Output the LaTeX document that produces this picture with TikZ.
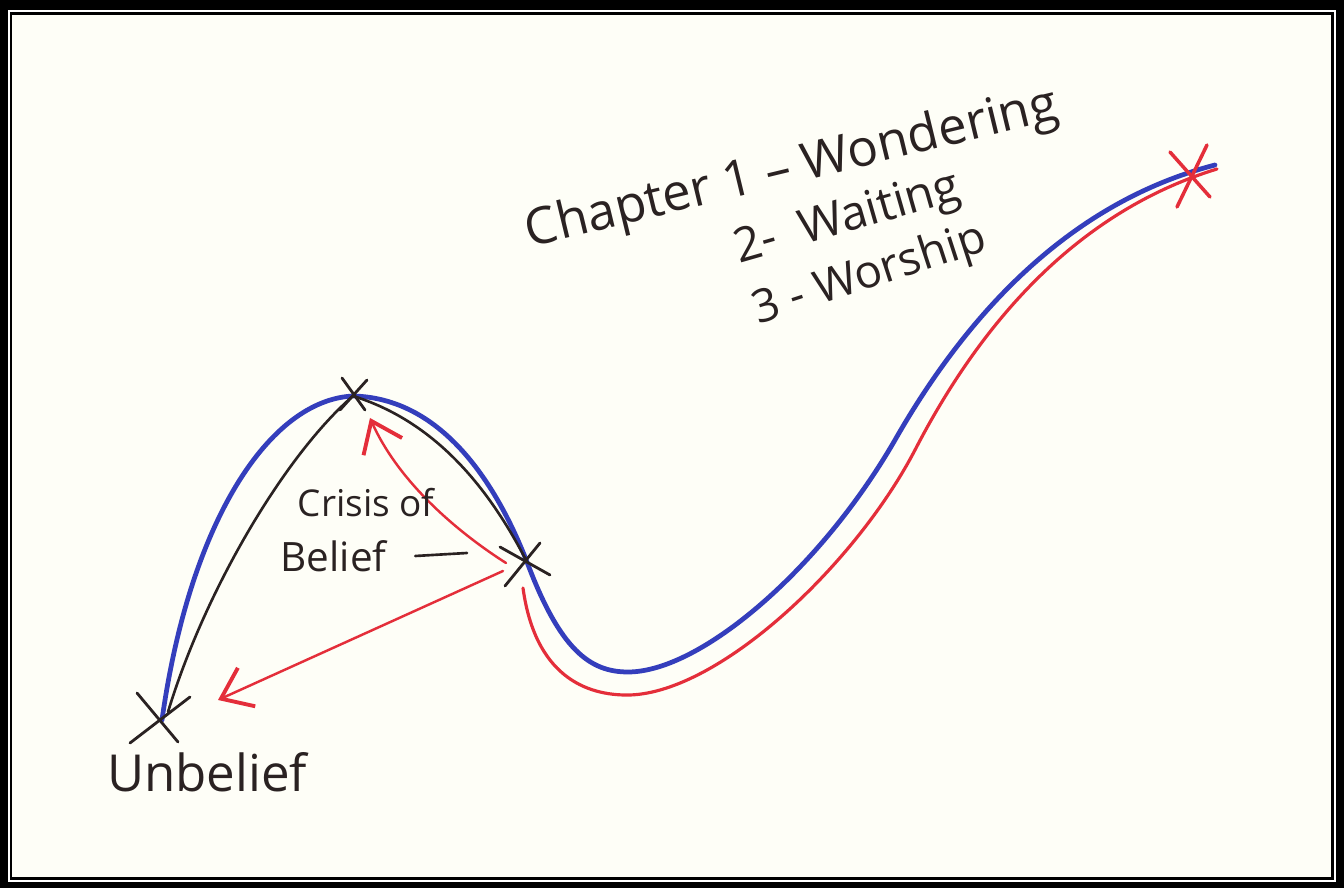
\documentclass[tikz,border=0pt]{standalone}
\usepackage{fontspec}
\setmainfont{Open Sans}
\usetikzlibrary{arrows.meta}
\definecolor{paper}{RGB}{254,254,247}
\definecolor{pblue}{RGB}{52,62,188}
\definecolor{pred}{RGB}{228,46,58}
\definecolor{ink}{RGB}{42,34,34}
\tikzset{
  bluepath/.style={draw=pblue,line width=1.35pt,line cap=round},
  redpath/.style={draw=pred,line width=0.9pt,line cap=round},
  inkline/.style={draw=ink,line width=0.75pt,line cap=round},
  xmarkink/.style={draw=ink,line width=0.8pt,line cap=round},
  xmarkred/.style={draw=pred,line width=1.0pt,line cap=round},
  redarrow/.style={draw=pred,line width=0.7pt,line cap=round,-{Straight Barb[length=8pt,width=12pt,line width=1.1pt]}},
  hand/.style={text=ink,inner sep=0pt,font=\fontsize{14.5}{16}\selectfont},
}
\begin{document}
\begin{tikzpicture}[x=0.01cm,y=-0.01cm]
% frame
\fill[black] (0,0) rectangle (1344,888);
\fill[white] (8,10) rectangle (1336,882);
\fill[black] (10,12) rectangle (1334,880);
\fill[paper] (12,15) rectangle (1331,877);
\useasboundingbox (0,0) rectangle (1344,888);

% key points
\coordinate (unb) at (162,720);
\coordinate (peak) at (353,396);
\coordinate (rx) at (527,562);
\coordinate (top) at (1215,165);
\coordinate (redtop) at (1217,169);
\coordinate (redstart) at (523,588);
\coordinate (topx) at (1192,173);

% blue journey
\draw[bluepath] (unb) .. controls (190,520) and (270,400) .. (peak)
  .. controls (440,398) and (495,480) .. (rx)
  .. controls (560,650) and (590,672) .. (628,672)
  .. controls (700,672) and (820,570) .. (895,440)
  .. controls (975,300) and (1080,200) .. (top);
% red journey
\draw[redpath] (redstart) .. controls (535,675) and (585,696) .. (630,695)
  .. controls (720,692) and (855,565) .. (915,450)
  .. controls (990,305) and (1090,208) .. (redtop);

% black lines from peak
\draw[inkline] (peak) .. controls (285,455) and (205,590) .. (168,712);
\draw[inkline] (peak) .. controls (430,420) and (485,480) .. (rx);

% red arrows
\draw[redarrow] (506,563) .. controls (462,535) and (400,485) .. (370,418);
\draw[redarrow] (503,571) -- (218,700);

% X marks
\draw[xmarkink] ([shift={(-11,-18)}]peak) -- ([shift={(12,14)}]peak);
\draw[xmarkink] ([shift={(14,-16)}]peak) -- ([shift={(-13,14)}]peak);
\draw[xmarkink] ([shift={(-22,24)}]rx) -- ([shift={(13,-19)}]rx);
\draw[xmarkink] ([shift={(-27,-15)}]rx) -- ([shift={(23,13)}]rx);
\draw[xmarkink] ([shift={(-25,-27)}]unb) -- ([shift={(16,22)}]unb);
\draw[xmarkink] ([shift={(28,-23)}]unb) -- ([shift={(-32,23)}]unb);
\draw[xmarkred] ([shift={(-22,-21)}]topx) -- ([shift={(18,24)}]topx);
\draw[xmarkred] ([shift={(15,-28)}]topx) -- ([shift={(-15,34)}]topx);

% labels
\node[hand] (unbl) at (207,772) {Unbelief};
\node[hand,font=\fontsize{10.5}{12}\selectfont,anchor=west] (crisis) at (297,503) {Crisis of};
\node[hand,font=\fontsize{11.5}{13}\selectfont,anchor=west] (belief) at (280,556) {Belief};
\coordinate (dashend) at (467,553);
\draw[inkline] ([xshift=8pt]belief.east) -- (dashend);
\node[hand,rotate=13.6] (ch1) at (792,170) {Chapter 1 – Wondering};
\node[hand,font=\fontsize{13.5}{15}\selectfont,rotate=16] (ch2) at (848,220) {2-\ \ Waiting};
\node[hand,font=\fontsize{13}{14}\selectfont,rotate=18] (ch3) at (870,276) {3 - Worship};
\end{tikzpicture}
\end{document}
